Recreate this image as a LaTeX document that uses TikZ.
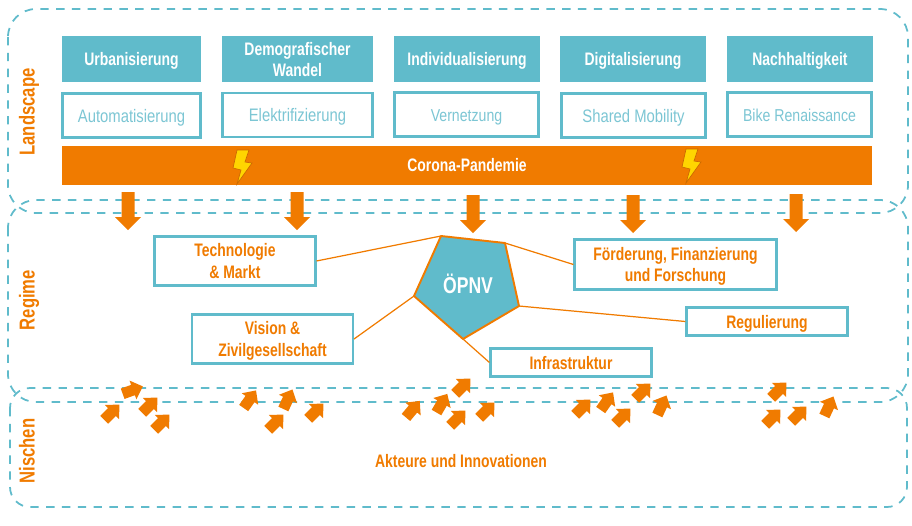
\documentclass[tikz,border=0pt]{standalone}
\usepackage{fontspec}
\setmainfont[FakeStretch=0.77]{Liberation Sans}
\newfontfamily\subfont[FakeStretch=0.82]{Liberation Sans}
\definecolor{petrol}{HTML}{60BBCB}
\definecolor{lightpetrol}{HTML}{7CC6D4}
\definecolor{signal}{HTML}{F07B00}
\definecolor{bolt}{HTML}{FFD500}
\tikzset{
  frame/.style={draw=petrol, line width=1pt, dash pattern=on 4.8pt off 4.2pt},
  oneline/.style={text height=9.9pt, text depth=2.5pt},
  topbox/.style={fill=petrol, text=white, font=\fontsize{10.3}{12}\selectfont\bfseries, align=center, inner sep=0pt, text depth=0pt, minimum height=0.92cm},
  subbox/.style={draw=petrol, line width=1.2pt, fill=white, text=lightpetrol, font=\subfont\fontsize{10.3}{12}\selectfont, inner sep=0pt, oneline, minimum height=0.88cm},
  actorbox/.style={draw=petrol, line width=1.2pt, fill=white, text=signal, font=\fontsize{10.3}{12.3}\selectfont\bfseries, align=center, inner sep=0pt, text depth=0pt, minimum width=3.22cm},
  layerlabel/.style={text=signal, font=\fontsize{12.3}{14}\selectfont\bfseries, rotate=90, inner sep=0pt},
  link/.style={draw=signal, line width=0.7pt},
}
\begin{document}
\begin{tikzpicture}[x=0.02cm, y=-0.02cm]
\useasboundingbox (0,0) rectangle (912,525);

% dashed layers
\draw[frame, rounded corners=0.56cm] (8,9) rectangle (908,213);
\draw[frame, rounded corners=0.56cm] (8,200) rectangle (908,402);
\draw[frame, rounded corners=0.4cm] (10,388) rectangle (907,507);

\node[layerlabel] (landscape) at (29,112) {Landscape};
\node[layerlabel] (regime) at (29,300) {Regime};
\node[layerlabel] (nischen) at (27,451) {Nischen};

% top row
\node[topbox, oneline, minimum width=2.78cm] (urban) at (131.5,59) {Urbanisierung};
\node[topbox, minimum width=3.02cm] (demo) at (297.5,59) {Demografischer\\Wandel};
\node[topbox, oneline, minimum width=2.92cm] (indiv) at (467,59) {Individualisierung};
\node[topbox, oneline, minimum width=2.92cm] (digi) at (633,59) {Digitalisierung};
\node[topbox, oneline, minimum width=2.92cm] (nach) at (800,59) {Nachhaltigkeit};

% second row
\node[subbox, minimum width=2.76cm] (auto) at (131.5,115.5) {Automatisierung};
\node[subbox, minimum width=3cm] (elek) at (297.5,115) {Elektrifizierung};
\node[subbox, minimum width=2.88cm, font=\subfont\fontsize{9.8}{12}\selectfont] (vern) at (466.5,114.5) {Vernetzung};
\node[subbox, minimum width=2.88cm] (shared) at (633.5,115.5) {Shared Mobility};
\node[subbox, minimum width=2.88cm, font=\subfont\fontsize{9.8}{12}\selectfont] (bike) at (799.5,114.5) {Bike Renaissance};

% corona bar
\node[fill=signal, text=white, font=\fontsize{10.3}{12}\selectfont\bfseries, inner sep=0pt, minimum width=16.2cm, minimum height=0.78cm] (corona) at (467,165.5) {Corona-Pandemie};

\foreach \bx/\by in {0/0, 449/-1}
  \draw[shift={(\bx,\by)}, fill=bolt, draw=signal!85!black, line width=0.4pt] (237,150) -- (249,150) -- (245,162) -- (252,163) -- (237,184) -- (241,170) -- (233,168) -- cycle;

% pressure from above
\foreach \ax/\ay in {128/192, 297/192, 473/195, 633/195, 796/194}
  \fill[signal, shift={(\ax,\ay)}] (-6.5,0) -- (6.5,0) -- (6.5,25) -- (13,25) -- (0,38) -- (-13,25) -- (-6.5,25) -- cycle;

% regime
\coordinate (p1) at (441,236);
\coordinate (p2) at (505,243);
\coordinate (p3) at (519,306);
\coordinate (p4) at (463,339);
\coordinate (p5) at (414,296);
\draw[fill=petrol, draw=signal, line width=1.1pt, line join=round] (p1) -- (p2) -- (p3) -- (p4) -- (p5) -- cycle;
\node[text=white, font=\fontsize{13}{15}\selectfont\bfseries, inner sep=0pt] (oepnv) at (468,284) {ÖPNV};

\node[actorbox, minimum height=0.98cm] (tech) at (235,261) {Technologie\\\& Markt};
\node[actorbox, minimum height=0.98cm] (vision) at (272.5,339) {Vision \&\\Zivilgesellschaft};
\node[actorbox, minimum width=4.04cm, minimum height=1cm] (foerd) at (675.5,264.5) {Förderung, Finanzierung\\und Forschung};
\node[actorbox, oneline, minimum height=0.56cm] (regu) at (767,321.5) {Regulierung};
\node[actorbox, oneline, minimum height=0.56cm] (infra) at (571,362.5) {Infrastruktur};

\draw[link] (tech.east) -- (p1);
\draw[link] (foerd.west) -- (p2);
\draw[link] (vision.east) -- (p5);
\draw[link] (regu.west) -- (p3);
\draw[link] (infra.west) -- (p4);

% niches
\foreach \ax/\ay/\ang in {112/412/45, 133/390/20, 150/405/45, 162/422/45, 250/399/55, 288/399/65, 276/422/45, 316/411/45, 413/409/50, 442/403/60, 458/418/45, 463/386/45, 487/410/45, 583/407/45, 607/401/55, 623/416/45, 643/391/45, 662/405/65, 779/390/45, 773/417/45, 799/414/45, 829/406/65}
  \fill[signal, shift={(\ax,\ay)}, rotate=\ang] (-11,-5.5) -- (0,-5.5) -- (0,-10) -- (10.5,0) -- (0,10) -- (0,5.5) -- (-11,5.5) -- cycle;

\node[text=signal, font=\fontsize{10.3}{12}\selectfont\bfseries, inner sep=0pt] (akteure) at (461,461) {Akteure und Innovationen};

\end{tikzpicture}
\end{document}
